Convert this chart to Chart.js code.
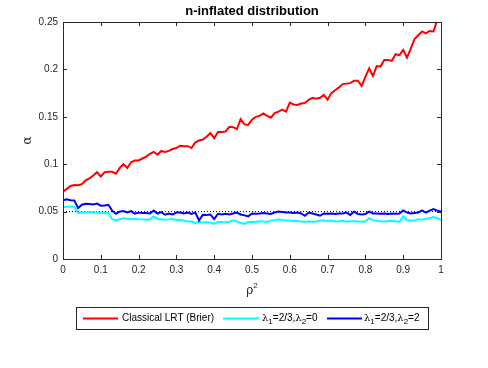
<!DOCTYPE html>
<html><head><meta charset="utf-8">
<script src="https://cdn.jsdelivr.net/npm/chart.js@4/dist/chart.umd.min.js"></script>
<style>html,body{margin:0;padding:0;background:#fff}</style>
</head><body>
<canvas id="c" width="488" height="368"></canvas>
<script>
const rho = [0,0.01,0.02,0.03,0.04,0.05,0.06,0.07,0.08,0.09,0.1,0.11,0.12,0.13,0.14,0.15,0.16,0.17,0.18,0.19,0.2,0.21,0.22,0.23,0.24,0.25,0.26,0.27,0.28,0.29,0.3,0.31,0.32,0.33,0.34,0.35,0.36,0.37,0.38,0.39,0.4,0.41,0.42,0.43,0.44,0.45,0.46,0.47,0.48,0.49,0.5,0.51,0.52,0.53,0.54,0.55,0.56,0.57,0.58,0.59,0.6,0.61,0.62,0.63,0.64,0.65,0.66,0.67,0.68,0.69,0.7,0.71,0.72,0.73,0.74,0.75,0.76,0.77,0.78,0.79,0.8,0.81,0.82,0.83,0.84,0.85,0.86,0.87,0.88,0.89,0.9,0.91,0.92,0.93,0.94,0.95,0.96,0.97,0.98,0.99,1];
const classicalLRT = [0.071,0.074,0.077,0.078,0.0778,0.079,0.083,0.085,0.088,0.0915,0.087,0.0915,0.092,0.092,0.090,0.096,0.100,0.096,0.102,0.104,0.104,0.106,0.108,0.111,0.113,0.110,0.114,0.113,0.114,0.116,0.117,0.1195,0.119,0.119,0.117,0.123,0.125,0.126,0.129,0.133,0.1275,0.134,0.134,0.1345,0.1395,0.139,0.137,0.1475,0.142,0.1415,0.147,0.150,0.151,0.1535,0.151,0.149,0.154,0.1555,0.1575,0.1555,0.165,0.163,0.1625,0.164,0.1645,0.168,0.170,0.169,0.170,0.173,0.168,0.175,0.178,0.181,0.1845,0.185,0.1855,0.188,0.188,0.1826,0.192,0.201,0.193,0.2035,0.203,0.210,0.210,0.209,0.216,0.215,0.2205,0.2125,0.222,0.232,0.236,0.240,0.238,0.2405,0.240,0.252,0.262];
const lambda2Zero = [0.0548,0.055,0.0555,0.0548,0.0485,0.049,0.049,0.0495,0.049,0.049,0.0485,0.0485,0.0485,0.042,0.0407,0.042,0.043,0.0425,0.042,0.0425,0.042,0.0418,0.0414,0.042,0.045,0.0425,0.042,0.0414,0.0418,0.0425,0.041,0.0414,0.0405,0.0396,0.0395,0.038,0.039,0.0385,0.0388,0.0385,0.037,0.039,0.039,0.0388,0.039,0.0407,0.0395,0.038,0.037,0.039,0.0392,0.039,0.0398,0.0395,0.039,0.0405,0.041,0.042,0.041,0.0405,0.0405,0.040,0.040,0.0395,0.0392,0.0396,0.0392,0.0395,0.0405,0.0405,0.040,0.0405,0.0395,0.0398,0.0405,0.0392,0.0398,0.0398,0.0395,0.0392,0.0395,0.043,0.041,0.0405,0.0398,0.0395,0.040,0.0402,0.0398,0.0392,0.045,0.041,0.0405,0.0405,0.042,0.0415,0.0425,0.043,0.0442,0.043,0.0414];
const lambda2Two = [0.062,0.063,0.062,0.0618,0.0537,0.0572,0.0583,0.058,0.0575,0.0585,0.0562,0.0565,0.0572,0.051,0.0477,0.050,0.0505,0.049,0.0505,0.0478,0.049,0.0485,0.0485,0.048,0.0512,0.048,0.0495,0.0467,0.048,0.047,0.049,0.049,0.048,0.049,0.0475,0.049,0.0407,0.0467,0.0465,0.047,0.042,0.0477,0.047,0.0478,0.047,0.048,0.049,0.047,0.046,0.045,0.048,0.0478,0.048,0.0485,0.048,0.0475,0.049,0.050,0.0495,0.049,0.049,0.0485,0.049,0.048,0.0456,0.049,0.048,0.047,0.0456,0.048,0.0478,0.048,0.0475,0.048,0.048,0.049,0.0465,0.050,0.0475,0.047,0.0475,0.050,0.048,0.048,0.0478,0.048,0.0475,0.048,0.0478,0.048,0.0512,0.049,0.048,0.0485,0.049,0.0512,0.049,0.051,0.0527,0.051,0.050];
const nominalX = [0, 1];
const nominalY = [0.05, 0.05];
const xTicks = [0,0.1,0.2,0.3,0.4,0.5,0.6,0.7,0.8,0.9,1];
const yTicks = [0,0.05,0.1,0.15,0.2,0.25];
const titleText = 'n-inflated distribution';
const seriesNames = ['Classical LRT (Brier)', 'λ1=2/3,λ2=0', 'λ1=2/3,λ2=2'];
const seriesColors = ['#ff0000', '#00ffff', '#0000ff'];

const FONT = '"Liberation Sans", Arial, Helvetica, sans-serif';
const AX = '#262626';

function pts(xs, ys){ return xs.map((x,i)=>({x, y: ys[i]})); }

function runs(ctx, x, y, parts, align){
  let total = 0;
  parts.forEach(p=>{ ctx.font = p.font; total += ctx.measureText(p.t).width; });
  let cx = align === 'center' ? x - total/2 : x;
  parts.forEach(p=>{ ctx.font = p.font; ctx.fillText(p.t, cx, y + (p.dy||0)); cx += ctx.measureText(p.t).width; });
}
function lambdaParts(sizeBig, a, b){
  const f = sizeBig + 'px ' + FONT, fs = Math.round(sizeBig*0.75) + 'px ' + FONT;
  const fg = sizeBig + 'px "DejaVu Serif", serif';
  return [
    {t:'λ', font: fg},{t:'1', font: fs, dy: 3},{t:'='+a+',', font: f},
    {t:'λ', font: fg},{t:'2', font: fs, dy: 3},{t:'='+b, font: f}
  ];
}

const deco = {
  id: 'deco',
  afterDraw(chart){
    const ctx = chart.ctx, ca = chart.chartArea;
    const xs = chart.scales.x, ys = chart.scales.y;
    ctx.save();
    ctx.strokeStyle = AX; ctx.lineWidth = 1;
    ctx.strokeRect(Math.round(ca.left)+0.5, Math.round(ca.top)+0.5, Math.round(ca.right-ca.left), Math.round(ca.bottom-ca.top));
    ctx.beginPath();
    xTicks.forEach(v=>{
      const px = Math.round(xs.getPixelForValue(v))+0.5;
      ctx.moveTo(px, ca.bottom); ctx.lineTo(px, ca.bottom-4);
      ctx.moveTo(px, ca.top); ctx.lineTo(px, ca.top+4);
    });
    yTicks.forEach(v=>{
      const py = Math.round(ys.getPixelForValue(v))+0.5;
      ctx.moveTo(ca.left, py); ctx.lineTo(ca.left+4, py);
      ctx.moveTo(ca.right, py); ctx.lineTo(ca.right-4, py);
    });
    ctx.stroke();
    // title
    ctx.fillStyle = '#000'; ctx.textBaseline = 'alphabetic'; ctx.textAlign = 'center';
    ctx.font = 'bold 13px ' + FONT;
    ctx.fillText(titleText, (ca.left+ca.right)/2, 15);
    // x label
    ctx.textBaseline = 'middle';
    ctx.textAlign = 'left'; ctx.fillStyle = AX;
    runs(ctx, (ca.left+ca.right)/2, 291, [
      {t:'ρ', font:'12px "DejaVu Serif", serif'},
      {t:'2', font:'8px ' + FONT, dy:-5}
    ], 'center');
    // y label
    ctx.save();
    ctx.translate(28, (ca.top+ca.bottom)/2);
    ctx.rotate(-Math.PI/2);
    ctx.textAlign = 'center';
    ctx.font = '12px "DejaVu Serif", serif';
    ctx.fillText('α', 0, 0);
    ctx.restore();
    // legend
    const lx = 76.5, ly = 307.5, lw = 352, lh = 22;
    ctx.fillStyle = '#fff'; ctx.fillRect(lx, ly, lw, lh);
    ctx.strokeStyle = AX; ctx.lineWidth = 1; ctx.strokeRect(lx, ly, lw, lh);
    const cy = ly + lh/2;
    const lineX = [[83,118],[223,259],[327,362]];
    const textX = [122, 262, 364];
    ctx.lineWidth = 2;
    lineX.forEach((s,i)=>{
      ctx.strokeStyle = seriesColors[i];
      ctx.beginPath(); ctx.moveTo(s[0], cy); ctx.lineTo(s[1], cy); ctx.stroke();
    });
    ctx.fillStyle = '#000'; ctx.textAlign = 'left'; ctx.textBaseline = 'middle';
    ctx.font = '10px ' + FONT;
    ctx.fillText(seriesNames[0], textX[0], cy);
    runs(ctx, textX[1], cy, lambdaParts(10, '2/3', '0'), 'left');
    runs(ctx, textX[2], cy, lambdaParts(10, '2/3', '2'), 'left');
    ctx.restore();
  }
};

new Chart(document.getElementById('c'), {
  type: 'line',
  data: {
    datasets: [
      {label: seriesNames[0], data: pts(rho, classicalLRT), borderColor: seriesColors[0], borderWidth: 2, pointRadius: 0, order: 4, tension: 0},
      {label: seriesNames[1], data: pts(rho, lambda2Zero), borderColor: seriesColors[1], borderWidth: 2, pointRadius: 0, order: 3, tension: 0},
      {label: seriesNames[2], data: pts(rho, lambda2Two), borderColor: seriesColors[2], borderWidth: 2, pointRadius: 0, order: 2, tension: 0},
      {label: 'nominal', data: pts(nominalX, nominalY), borderColor: '#000', borderWidth: 1, borderDash: [1,2], pointRadius: 0, order: 5}
    ]
  },
  options: {
    responsive: false, animation: false,
    layout: {padding: {left: 0, right: 47, top: 22, bottom: 0}},
    plugins: {legend: {display: false}, title: {display: false}, tooltip: {enabled: false}},
    scales: {
      x: {
        type: 'linear', min: 0, max: 1,
        afterBuildTicks: s => { s.ticks = xTicks.map(v=>({value: v})); },
        afterFit: s => { s.height = 109; },
        grid: {display: false, drawTicks: false},
        border: {display: false},
        ticks: {color: AX, font: {family: FONT, size: 10}, padding: 5, maxRotation: 0,
          callback: v => String(Math.round(v*10)/10)}
      },
      y: {
        type: 'linear', min: 0, max: 0.25,
        afterBuildTicks: s => { s.ticks = yTicks.map(v=>({value: v})); },
        afterFit: s => { s.width = 63; },
        grid: {display: false, drawTicks: false},
        border: {display: false},
        ticks: {color: AX, font: {family: FONT, size: 10}, padding: 5,
          callback: v => String(Math.round(v*100)/100)}
      }
    }
  },
  plugins: [deco]
});
</script>
</body></html>
